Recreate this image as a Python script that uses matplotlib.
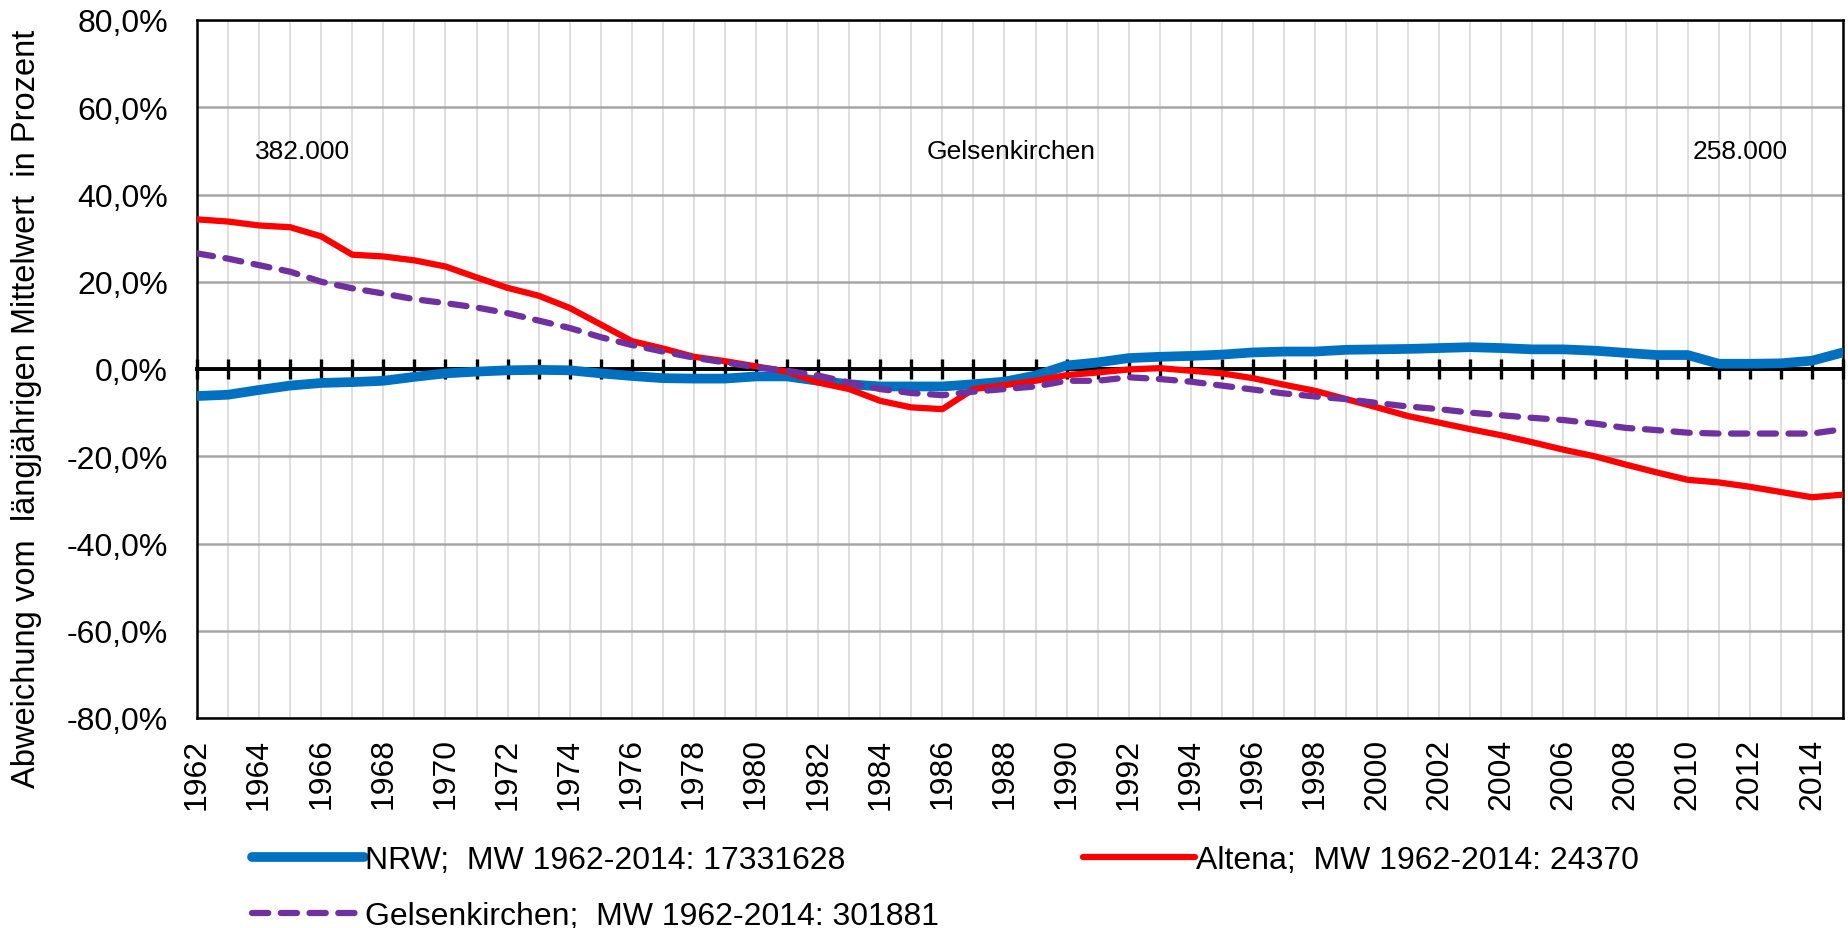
import matplotlib
matplotlib.use("Agg")
import matplotlib.pyplot as plt
from matplotlib.ticker import MultipleLocator, FuncFormatter

plt.rcParams["font.family"] = ["Liberation Sans", "DejaVu Sans"]

# Daten: Abweichung vom langjährigen Mittelwert (in %)
years = list(range(1962, 2016))

nrw = [-6.2, -5.9, -4.8, -3.8, -3.2, -3.0, -2.7, -1.8, -1.0, -0.6,
       -0.3, -0.2, -0.3, -1.0, -1.6, -2.1, -2.2, -2.2, -1.7, -1.7,
       -2.7, -3.5, -4.0, -4.0, -4.0, -3.5, -2.9, -1.5, 0.8, 1.5,
       2.5, 2.8, 3.0, 3.3, 3.8, 4.0, 4.0, 4.4, 4.5, 4.6,
       4.8, 5.0, 4.8, 4.5, 4.5, 4.2, 3.7, 3.2, 3.2, 1.2,
       1.2, 1.3, 1.9, 3.8]

altena = [34.3, 33.8, 32.9, 32.5, 30.4, 26.2, 25.8, 24.9, 23.5, 21.0,
          18.6, 16.8, 14.0, 10.2, 6.4, 4.7, 2.8, 1.8, 0.6, -0.6,
          -3.1, -4.6, -7.3, -8.8, -9.2, -4.6, -3.7, -2.7, -1.4, -0.8,
          -0.1, 0.2, -0.4, -1.0, -2.1, -3.6, -5.0, -6.9, -8.8, -10.8,
          -12.3, -13.8, -15.2, -16.8, -18.5, -20.0, -21.9, -23.7, -25.4, -26.0,
          -27.0, -28.2, -29.4, -28.8]

gelsenkirchen = [26.5, 25.3, 23.8, 22.3, 20.0, 18.5, 17.3, 16.0, 15.1, 14.1,
                 12.8, 11.1, 9.4, 7.3, 5.5, 4.0, 2.6, 1.5, 0.4, -0.4,
                 -1.5, -3.1, -4.6, -5.5, -6.0, -5.2, -4.6, -4.0, -2.7, -2.7,
                 -1.9, -2.3, -2.9, -3.8, -4.7, -5.6, -6.3, -6.9, -7.8, -8.6,
                 -9.2, -10.0, -10.6, -11.2, -11.7, -12.5, -13.5, -14.0, -14.6, -14.8,
                 -14.8, -14.8, -14.8, -13.8]

labels = ["NRW;  MW 1962-2014: 17331628",
          "Altena;  MW 1962-2014: 24370",
          "Gelsenkirchen;  MW 1962-2014: 301881"]

notes = [("382.000", 1965.4, 50), ("Gelsenkirchen", 1988.2, 50), ("258.000", 2011.7, 50)]

FS = 23

fig = plt.figure(figsize=(18.49, 9.29), dpi=100)
ax = fig.add_axes([197 / 1849, 1 - 719 / 929, (1843 - 197) / 1849, (719 - 21) / 929])

ax.set_xlim(1962, 2015)
ax.set_ylim(-80, 80)
ax.yaxis.set_major_locator(MultipleLocator(20))
ax.yaxis.set_major_formatter(FuncFormatter(lambda v, _: f"{v:.1f}%".replace(".", ",")))
ax.xaxis.set_major_locator(MultipleLocator(2))
ax.xaxis.set_minor_locator(MultipleLocator(1))
ax.xaxis.set_major_formatter(FuncFormatter(lambda v, _: f"{int(v)}"))

ax.set_axisbelow(True)
ax.grid(axis="x", which="both", color="#d9d9d9", linewidth=1.2)
ax.grid(axis="y", which="major", color="#a6a6a6", linewidth=1.8)

ax.tick_params(axis="y", length=0, pad=21, labelsize=FS, colors="#000000")
ax.tick_params(axis="x", which="both", length=0, pad=14, labelsize=FS, labelrotation=90)
for sp in ax.spines.values():
    sp.set_color("black")
    sp.set_linewidth(1.8)

ax.set_ylabel("Abweichung vom  längjährigen Mittelwert  in Prozent", fontsize=23.5)
ax.yaxis.set_label_coords(-(197 - 42) / 1646, 0.5 + (369 - 408) / 698)

# Nulllinie mit Teilstrichen (wie Excel-Rubrikenachse)
ax2 = ax.twiny()
ax2.set_xlim(1962, 2015)
for key, sp in ax2.spines.items():
    sp.set_visible(key == "bottom")
ax2.spines["bottom"].set_position(("data", 0))
ax2.spines["bottom"].set_linewidth(2.8)
ax2.xaxis.set_ticks_position("bottom")
ax2.xaxis.set_major_locator(MultipleLocator(1))
ax2.tick_params(axis="x", direction="inout", length=14, width=2.4, labelbottom=False, labeltop=False)

l_nrw, = ax2.plot(years, nrw, color="#0070C0", linewidth=7.0, solid_capstyle="round",
                  solid_joinstyle="round", zorder=3, label=labels[0])
l_alt, = ax2.plot(years, altena, color="#FF0000", linewidth=4.5, solid_capstyle="round",
                  solid_joinstyle="round", zorder=3, label=labels[1])
l_gel, = ax2.plot(years, gelsenkirchen, color="#7030A0", linewidth=4.5, dashes=(2.6, 2.0),
                  dash_capstyle="round", dash_joinstyle="round", zorder=3, label=labels[2])

for txt, xv, yv in notes:
    ax.text(xv, yv, txt, fontsize=19, ha="center", va="center")

leg_kw = dict(frameon=False, fontsize=FS, handlelength=3.5, handletextpad=0.05,
              borderpad=0, borderaxespad=0, labelspacing=0.82, loc="upper left")
fig.legend([l_nrw, l_gel], [labels[0], labels[2]], bbox_to_anchor=(252 / 1849, 1 - 846 / 929), **leg_kw)
fig.legend([l_alt], [labels[1]], bbox_to_anchor=(1083 / 1849, 1 - 846 / 929), **leg_kw)

fig.savefig("out.png", dpi=100)
